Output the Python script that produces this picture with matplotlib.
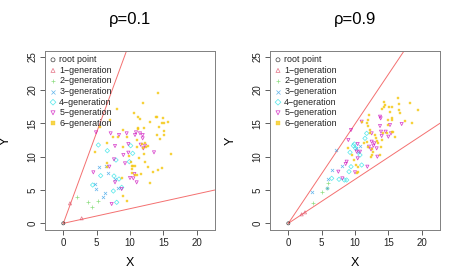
import matplotlib
matplotlib.use("Agg")
import matplotlib.pyplot as plt

plt.rcParams['font.family'] = ['Liberation Sans', 'DejaVu Sans']

titles = ["\u03c1=0.1", "\u03c1=0.9"]
labels = ["root point", "1\u2212generation", "2\u2212generation", "3\u2212generation",
          "4\u2212generation", "5\u2212generation", "6\u2212generation"]
colors = ["#000000", "#DF536B", "#61D04F", "#2297E6", "#28E2E5", "#CD0BBC", "#F5C710"]
markers = ["o", "^", "+", "x", "D", "v", "s"]

# boundary line slopes (through origin)
slopes_a = [2.73, 0.22]
slopes_b = [1.49, 0.66]

# ---- panel A (rho = 0.1) ----
a_root = [(0.0, 0.0)]
a_g1 = [(1.0, 3.0), (2.75, 0.75)]
a_g2 = [(2.1, 4.0), (3.75, 3.25), (4.25, 2.4), (5.25, 3.35)]
a_g3 = [(5.35, 8.5), (4.75, 5.85), (4.9, 5.1), (6.25, 4.6), (5.9, 4.0), (6.75, 7.5),
        (6.4, 8.65), (8.25, 5.25), (7.75, 6.6)]
a_g4 = [(5.25, 11.75), (6.6, 10.9), (4.4, 5.75), (5.6, 7.15), (7.5, 4.85), (8.0, 3.15),
        (7.6, 7.1), (8.75, 5.4), (9.9, 9.25), (10.1, 11.65), (10.4, 10.5), (7.9, 9.5),
        (8.35, 6.65)]
a_g5 = [(4.9, 13.65), (4.5, 7.65), (7.1, 13.5), (7.75, 11.6), (6.9, 8.5), (7.6, 9.6),
        (7.75, 6.15), (7.25, 2.9), (8.75, 5.15), (8.35, 13.25), (9.5, 13.5), (9.75, 10.6),
        (9.0, 10.25), (9.25, 9.0), (9.75, 11.9), (10.0, 6.8), (10.5, 6.75), (10.75, 13.25),
        (10.9, 13.65), (11.5, 13.5), (11.6, 11.8), (12.0, 11.25), (11.9, 12.75), (11.0, 6.15),
        (10.65, 7.4), (13.6, 10.65), (12.25, 11.65), (11.9, 13.25)]
a_g6 = [(5.5, 14.5), (7.0, 15.5), (8.0, 17.1), (8.25, 13.0), (7.5, 12.9), (6.6, 12.0),
        (6.6, 9.1), (4.75, 10.65), (6.6, 8.5), (9.0, 14.0), (9.5, 13.0), (9.0, 11.4),
        (9.9, 10.15), (10.15, 9.25), (10.25, 8.65), (10.5, 8.65), (10.75, 8.65), (10.25, 8.15),
        (10.25, 7.5), (10.75, 7.25), (11.0, 7.25), (11.65, 7.35), (9.6, 3.35), (8.9, 4.15),
        (8.75, 6.75), (10.65, 16.6), (11.15, 16.0), (11.5, 15.65), (11.15, 14.25), (11.25, 14.1),
        (11.1, 12.5), (11.75, 11.9), (11.9, 11.25), (12.25, 12.0), (12.4, 11.4), (12.65, 11.65),
        (12.15, 14.25), (12.0, 18.1), (12.1, 10.4), (12.25, 9.15), (12.75, 8.5), (13.0, 6.0),
        (13.0, 15.25), (13.9, 16.0), (14.1, 16.0), (14.25, 19.5), (14.35, 14.5), (14.1, 13.25),
        (14.5, 12.6), (13.4, 7.75), (14.25, 8.0), (14.75, 8.25), (15.0, 15.75), (14.85, 15.0),
        (15.1, 15.0), (15.1, 13.85), (15.1, 13.25), (15.75, 15.25), (16.1, 10.35), (11.1, 11.5),
        (11.4, 9.75)]

# ---- panel B (rho = 0.9) ----
b_root = [(0.0, 0.0)]
b_g1 = [(2.0, 1.35), (2.5, 1.65)]
b_g2 = [(3.75, 3.0), (5.0, 4.65), (5.85, 5.35), (6.0, 6.0)]
b_g3 = [(3.5, 4.75), (5.9, 6.65), (5.75, 5.25), (6.6, 8.0), (8.1, 8.65), (7.15, 11.0),
        (10.1, 11.25), (10.5, 10.75), (10.75, 11.65)]
b_g4 = [(6.5, 6.75), (7.6, 6.6), (8.4, 6.5), (8.75, 6.5), (9.1, 7.75), (9.25, 10.65),
        (9.4, 8.5), (9.9, 11.9), (10.1, 11.25), (11.0, 8.75), (10.75, 10.25), (11.75, 13.5),
        (11.5, 12.75), (9.75, 11.65)]
b_g5 = [(9.4, 14.0), (9.0, 12.5), (8.75, 9.25), (8.6, 8.9), (7.5, 7.75), (8.1, 6.75),
        (10.0, 7.65), (10.4, 9.75), (10.25, 10.75), (10.75, 10.75), (10.4, 11.9), (11.0, 15.25),
        (11.85, 8.5), (12.1, 11.5), (12.4, 11.1), (12.5, 12.25), (12.9, 12.0), (13.25, 11.25),
        (13.75, 16.0), (13.85, 15.75), (13.75, 14.6), (13.9, 13.75), (14.0, 13.1), (14.6, 13.75),
        (15.0, 13.0), (15.25, 14.75), (15.4, 13.5), (17.0, 14.9), (13.35, 10.0), (12.5, 13.5),
        (12.75, 11.65)]
b_g6 = [(9.0, 11.25), (9.5, 10.25), (9.9, 9.5), (10.1, 8.75), (10.4, 8.5), (10.5, 7.65),
        (10.25, 7.5), (11.1, 15.25), (11.75, 15.0), (11.9, 14.65), (11.9, 15.5), (12.1, 16.25),
        (12.25, 14.0), (12.25, 13.5), (11.4, 12.0), (11.75, 12.15), (11.9, 11.5), (12.5, 11.1),
        (12.75, 10.75), (12.5, 10.25), (12.4, 10.0), (13.0, 13.25), (13.1, 12.75), (13.25, 12.4),
        (13.4, 12.0), (13.75, 10.25), (13.9, 11.5), (14.25, 13.5), (14.4, 17.5), (14.4, 18.25),
        (14.5, 17.75), (14.0, 17.1), (14.9, 15.5), (15.0, 14.75), (15.25, 16.75), (15.5, 15.5),
        (15.1, 17.5), (15.5, 15.75), (15.6, 17.4), (16.0, 12.9), (16.5, 18.75), (16.6, 17.9),
        (16.6, 17.0), (16.75, 16.5), (17.5, 15.4), (18.25, 18.0), (18.5, 15.0), (19.5, 17.0),
        (15.5, 13.65), (15.75, 13.75), (14.75, 13.5), (14.0, 12.5)]

panels = [
    (titles[0], [a_root, a_g1, a_g2, a_g3, a_g4, a_g5, a_g6], slopes_a),
    (titles[1], [b_root, b_g1, b_g2, b_g3, b_g4, b_g5, b_g6], slopes_b),
]

xticks = [0, 5, 10, 15, 20]
yticks = [0, 5, 10, 15, 20, 25]

fig = plt.figure(figsize=(4.5, 2.75), dpi=100)
lefts = [45 / 450, 270 / 450]
for (title, groups, slopes), left in zip(panels, lefts):
    ax = fig.add_axes([left, 45 / 275, 170 / 450, 179.3 / 275])
    for s in slopes:
        x_end = 40.0
        ax.plot([0, x_end], [0, s * x_end], color="#F47070", lw=0.7, zorder=1)
    handles = []
    for pts, c, m, lab in zip(groups, colors, markers, labels):
        xs = [p[0] for p in pts]
        ys = [p[1] for p in pts]
        if m in ("+", "x"):
            h = ax.scatter(xs, ys, marker=m, s=5, c=c, linewidths=0.5, alpha=0.7, zorder=3, label=lab)
        elif m == "s":
            h = ax.scatter(xs, ys, marker=m, s=3.6, c=c, edgecolors=c, linewidths=0.3, alpha=0.75, zorder=3, label=lab)
        elif m == "o":
            h = ax.scatter(xs, ys, marker=m, s=5, facecolors="none", edgecolors=c, linewidths=0.5, alpha=0.75, zorder=3, label=lab)
        else:
            h = ax.scatter(xs, ys, marker=m, s=5, facecolors="none", edgecolors=c, linewidths=0.55, alpha=0.75, zorder=3, label=lab)
        handles.append(h)
    ax.set_xlim(-2.75, 22.75)
    ax.set_ylim(-1.0, 25.9)
    ax.set_xticks(xticks)
    ax.set_yticks(yticks)
    ax.tick_params(axis="both", labelsize=7, length=3.5, width=0.6, pad=2, colors="#444444",
                   labelcolor="#222222")
    for lbl in ax.get_yticklabels():
        lbl.set_rotation(90)
        lbl.set_va("center")
    for sp in ax.spines.values():
        sp.set_color("#808080")
        sp.set_linewidth(0.7)
    ax.set_xlabel("X", fontsize=9, labelpad=7)
    ax.set_ylabel("Y", fontsize=9, labelpad=11)
    ax.set_title(title, fontsize=12, pad=19)
    leg = ax.legend(handles=handles, loc="upper left", frameon=False, fontsize=6.4,
                    labelspacing=0.18, handletextpad=0.3, handlelength=0.8,
                    borderaxespad=0.1, borderpad=0.4, markerscale=1.3, scatterpoints=1)
    for t in leg.get_texts():
        t.set_color("#222222")

fig.savefig("out.png", dpi=100)
